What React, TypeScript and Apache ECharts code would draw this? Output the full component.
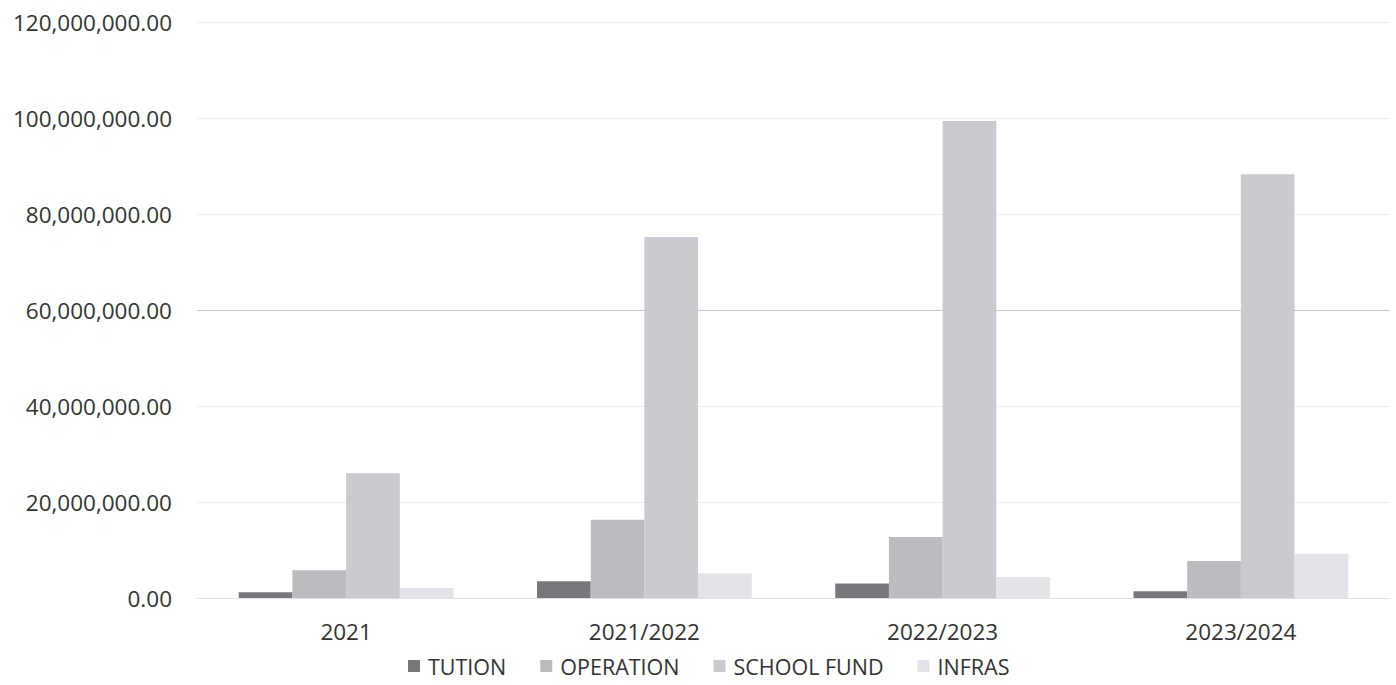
import React, { useEffect, useRef } from "react";
import * as echarts from "echarts";

const categories = ["2021", "2021/2022", "2022/2023", "2023/2024"];
const seriesNames = ["TUTION", "OPERATION", "SCHOOL FUND", "INFRAS"];
const tution = [1200000, 3500000, 3000000, 1400000];
const operation = [5800000, 16300000, 12700000, 7700000];
const schoolFund = [26000000, 75200000, 99400000, 88300000];
const infras = [2100000, 5100000, 4400000, 9200000];
const colors = ["#78787c", "#bcbcc0", "#cacad0", "#e3e3ea"];

const FONT = "'Open Sans', 'DejaVu Sans', sans-serif";

export default function App() {
  const ref = useRef<HTMLDivElement>(null);
  useEffect(() => {
    if (!ref.current) return;
    const chart = echarts.init(ref.current, undefined, { renderer: "svg" });
    const values = [tution, operation, schoolFund, infras];
    chart.setOption({
      animation: false,
      backgroundColor: "#ffffff",
      grid: { left: 197, right: 6, top: 22, bottom: 87, containLabel: false },
      legend: {
        left: 408,
        top: 655,
        padding: 0,
        itemWidth: 12,
        itemHeight: 12,
        itemGap: 34,
        icon: "rect",
        textStyle: { fontFamily: FONT, fontSize: 21.5, color: "#333333", padding: [0, 0, 0, 3] },
        data: seriesNames,
      },
      xAxis: {
        type: "category",
        data: categories,
        axisLine: { show: true, lineStyle: { color: "#e2e2e6", width: 1 } },
        axisTick: { show: false },
        axisLabel: { fontFamily: FONT, fontSize: 22.5, color: "#333333", margin: 22 },
        splitLine: { show: false },
      },
      yAxis: {
        type: "value",
        min: 0,
        max: 120000000,
        interval: 20000000,
        axisLine: { show: false },
        axisTick: { show: false },
        axisLabel: {
          fontFamily: FONT,
          fontSize: 22.5,
          color: "#333333",
          margin: 25,
          formatter: (v: number) =>
            v.toLocaleString("en-US", { minimumFractionDigits: 2, maximumFractionDigits: 2 }),
        },
        splitLine: {
          show: true,
          lineStyle: {
            color: ["#ececf0", "#ececf0", "#ececf0", "#c4c4ce", "#ececf0", "#ececf0", "#ececf0"],
            width: 1,
          },
        },
      },
      series: seriesNames.map((name, i) => ({
        name,
        type: "bar",
        data: values[i],
        barGap: "0%",
        barCategoryGap: "28%",
        itemStyle: { color: colors[i] },
      })),
    });
    return () => chart.dispose();
  }, []);
  return (
    <div
      ref={ref}
      style={{ position: "fixed", left: 0, top: 0, width: 1396, height: 685 }}
    />
  );
}
